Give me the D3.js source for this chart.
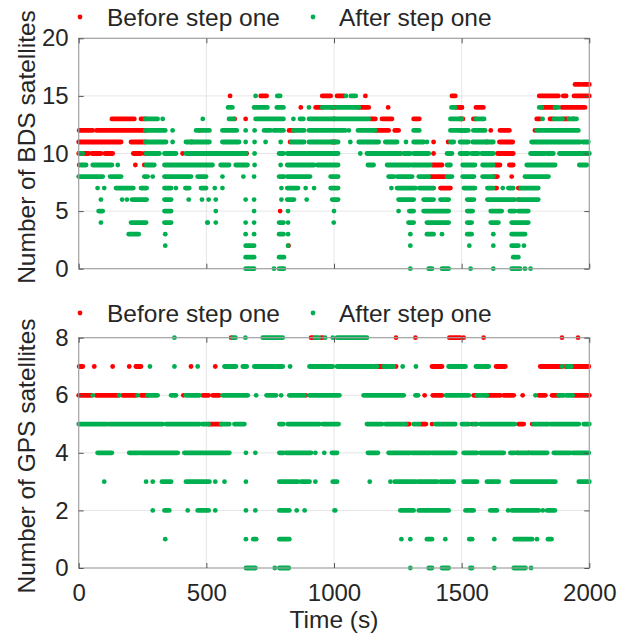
<!DOCTYPE html>
<html lang="en">
<head>
<meta charset="UTF-8">
<title>Satellite counts before and after step one</title>
<script src="https://d3js.org/d3.v7.min.js"></script>
<style>
  body { margin: 0; background: #fff; }
  text { font-family: "Liberation Sans", Arial, sans-serif; font-size: 24.5px; fill: #262626; }
  .tick text { font-size: 24px; }
  .tick line { stroke: #555; }
</style>
</head>
<body>
<svg width="628" height="642"></svg>
<script>
var timeTicks = [0, 500, 1000, 1500, 2000];
var bdsTicks = [0, 5, 10, 15, 20];
var gpsTicks = [0, 2, 4, 6, 8];
var legendNames = ["Before step one", "After step one"];
var colors = ["#ff0000", "#00b050"];

// runs of markers: [satellite count, first time (s), last time (s)]
var bdsBefore = [
  [13,130,218],[13,244,261],[12,2,55],[12,70,261],[12,475,475],
  [11,0,166],[11,205,261],[11,443,443],
  [10,0,0],[10,22,39],[10,52,87],[10,103,133],[10,214,244],[10,257,257],[10,407,407],
  [9,2,2],[9,222,222],[9,257,257],
  [15,593,593],[15,713,736],[15,954,987],[15,1012,1040],[15,1123,1123],[15,1462,1475],
  [14,870,870],[14,928,954],[14,992,1005],[14,1097,1136],[14,1212,1212],[14,1478,1501],
  [13,611,611],[13,654,654],[13,1000,1000],[13,1142,1162],[13,1188,1227],[13,1312,1334],
  [12,824,841],[12,1162,1214],[12,1238,1253],
  [11,828,828],[11,992,1005],[11,1390,1390],[11,1447,1447],
  [10,491,504],[10,658,658],[10,1260,1260],[10,1390,1390],
  [9,1384,1423],[8,1377,1436],[7,1390,1390],[7,1417,1456],
  [5,789,789],[2,822,822],
  [16,1944,1964],[16,1974,2000],
  [15,1804,1879],[15,1898,1909],[15,1940,2000],
  [14,1494,1500],[14,1556,1585],[14,1814,1866],[14,1892,1983],
  [13,1494,1505],[13,1546,1556],[13,1794,1807],[13,1846,1859],[13,1898,1918],[13,1938,1938],
  [12,1614,1614],[12,1650,1687],[12,1787,1787],
  [11,1598,1598],[11,1648,1700],
  [10,1640,1657],[10,1663,1702],
  [9,1631,1650],[9,1687,1702],
  [8,1627,1640],[8,1696,1696],
  [7,1631,1637],[7,1722,1729],[6,1722,1722]
];
var bdsAfter = [
  [13,261,309],[13,329,329],[13,486,486],
  [12,261,339],[12,368,368],[12,460,472],[12,483,512],
  [11,261,342],[11,368,368],[11,420,441],[11,446,512],
  [10,3,16],[10,264,316],[10,336,381],[10,420,512],
  [9,9,29],[9,55,130],[9,153,153],[9,264,296],[9,336,524],
  [8,0,94],[8,123,166],[8,257,270],[8,290,290],[8,336,440],[8,466,499],
  [7,74,74],[7,100,100],[7,146,214],[7,244,266],[7,336,362],[7,381,381],[7,418,433],[7,479,499],
  [6,87,87],[6,170,170],[6,189,189],[6,209,266],[6,336,362],[6,431,431],[6,483,483],[6,509,509],
  [5,78,94],[5,336,362],
  [4,87,87],[4,205,264],[4,336,362],[4,505,505],
  [3,196,235],[3,339,339],[2,339,339],
  [15,693,693],[15,778,789],[15,1047,1047],[15,1066,1085],
  [14,585,602],[14,687,739],[14,776,802],[14,902,902],[14,954,997],[14,1012,1097],[14,1460,1475],
  [13,589,608],[13,693,802],[13,841,841],[13,867,880],[13,902,1000],[13,1003,1136],[13,1456,1501],
  [12,563,619],[12,654,654],[12,689,689],[12,726,752],[12,765,802],[12,841,883],[12,902,1044],
  [12,1058,1058],[12,1094,1162],[12,1312,1334],[12,1456,1517],
  [11,563,628],[11,654,654],[11,689,689],[11,732,732],[11,791,791],[11,833,883],[11,902,1016],
  [11,1064,1064],[11,1097,1175],[11,1201,1247],[11,1282,1282],[11,1312,1351],[11,1364,1364],[11,1456,1469],
  [10,504,656],[10,689,689],[10,785,802],[10,817,1016],[10,1103,1103],[10,1129,1258],[10,1273,1299],
  [10,1312,1371],[10,1443,1462],
  [9,556,589],[9,615,661],[9,689,689],[9,791,791],[9,817,922],[9,935,1016],[9,1133,1155],
  [9,1208,1299],[9,1306,1377],[9,1443,1456],
  [8,563,563],[8,645,645],[8,687,687],[8,785,804],[8,817,906],[8,987,1016],[8,1214,1234],
  [8,1247,1306],[8,1332,1371],[8,1443,1462],
  [7,533,533],[7,563,563],[7,794,794],[7,817,859],[7,889,889],[7,922,922],[7,987,1016],
  [7,1225,1225],[7,1247,1319],[7,1334,1388],
  [6,537,537],[6,654,654],[6,687,687],[6,794,794],[6,817,843],[6,893,893],[6,993,1016],
  [6,1253,1312],[6,1351,1390],[6,1417,1449],
  [5,537,537],[5,687,687],[5,820,820],[5,1000,1000],[5,1253,1253],[5,1295,1312],[5,1351,1449],
  [4,504,504],[4,537,537],[4,654,654],[4,687,687],[4,785,802],[4,820,820],[4,999,999],
  [4,1292,1312],[4,1364,1449],
  [3,654,654],[3,687,687],[3,785,802],[3,820,820],[3,1299,1299],[3,1364,1390],[3,1423,1423],
  [2,654,687],[2,820,820],[2,1299,1299],
  [1,654,687],[1,785,804],
  [0,654,687],[0,765,765],[0,785,804],[0,1299,1299],[0,1371,1384],[0,1423,1449],
  [14,1804,1814],[14,1866,1879],
  [13,1556,1588],[13,1817,1817],[13,1862,1895],[13,1920,1936],[13,1940,1950],
  [12,1494,1526],[12,1546,1592],[12,1794,1957],
  [11,1494,1526],[11,1543,1596],[11,1600,1624],[11,1774,1964],[11,1974,1996],
  [10,1494,1526],[10,1539,1565],[10,1578,1624],[10,1770,1827],[10,1836,1859],[10,1883,2000],
  [9,1504,1552],[9,1582,1624],[9,1755,1866],[9,1961,1990],
  [8,1504,1548],[8,1582,1625],[8,1748,1840],
  [7,1509,1552],[7,1601,1624],[7,1661,1661],[7,1683,1702],[7,1731,1800],
  [6,1522,1548],[6,1601,1709],[6,1725,1800],
  [5,1522,1543],[5,1614,1657],[5,1689,1709],[5,1722,1761],
  [4,1522,1539],[4,1614,1644],[4,1696,1761],
  [3,1522,1539],[3,1624,1624],[3,1696,1748],
  [2,1530,1530],[2,1624,1624],[2,1696,1722],[2,1744,1744],
  [1,1702,1722],
  [0,1535,1535],[0,1624,1624],[0,1696,1729],[0,1748,1748],[0,1770,1770]
];
var gpsBefore = [
  [8,597,597],[8,910,918],[8,950,955],
  [8,1243,1243],[8,1319,1319],[8,1452,1495],[8,1508,1508],[8,1586,1586],[8,1893,1893],[8,1956,1956],
  [7,2,16],[7,61,61],[7,133,133],[7,198,198],[7,224,244],[7,440,440],[7,535,535],[7,585,585],[7,950,950],
  [7,1169,1195],[7,1243,1243],[7,1384,1423],[7,1595,1595],[7,1635,1671],[7,1808,1893],[7,1906,1998],
  [6,0,50],[6,68,155],[6,172,224],[6,244,270],[6,410,410],[6,486,509],[6,525,551],[6,890,890],
  [6,1355,1355],[6,1387,1423],[6,1547,1560],[6,1599,1652],[6,1665,1704],[6,1739,1739],[6,1802,1828],
  [6,1854,1880],[6,1939,2000],
  [5,113,113],[5,509,558],[5,1282,1295],[5,1338,1360],[5,1384,1384],[5,1541,1541],[5,1723,1743],[5,1776,1776],
  [4,1717,1717],[4,1763,1763]
];
var gpsAfter = [
  [8,375,375],[8,603,614],[8,653,653],[8,721,799],[8,925,940],[8,965,965],[8,995,995],[8,1012,1129],
  [7,279,279],[7,375,375],[7,466,466],[7,571,616],[7,643,658],[7,688,799],[7,828,828],[7,904,995],
  [7,1012,1169],[7,1195,1234],[7,1269,1269],[7,1321,1321],[7,1449,1515],[7,1556,1606],[7,1893,1893],[7,1912,1930],
  [6,55,55],[6,159,159],[6,231,231],[6,270,309],[6,362,381],[6,420,473],[6,564,662],[6,695,695],
  [6,736,773],[6,793,793],[6,825,884],[6,904,1021],[6,1116,1273],[6,1319,1329],[6,1439,1528],
  [6,1560,1599],[6,1789,1789],[6,1880,1900],[6,1910,1935],
  [5,0,107],[5,120,329],[5,342,473],[5,483,509],[5,558,590],[5,610,649],[5,786,802],[5,819,943],
  [5,956,1018],[5,1129,1188],[5,1201,1282],[5,1312,1334],[5,1397,1475],[5,1501,1530],[5,1547,1560],
  [5,1573,1708],[5,1782,1841],[5,1848,1959],[5,1978,2000],
  [4,74,130],[4,198,238],[4,244,388],[4,414,590],[4,655,655],[4,692,692],[4,786,802],[4,812,910],
  [4,927,927],[4,962,962],[4,992,1012],[4,1133,1172],[4,1214,1299],[4,1306,1377],[4,1384,1475],
  [4,1508,1560],[4,1573,1665],[4,1691,1708],[4,1719,1761],[4,1769,1835],[4,1861,1926],[4,1935,1998],
  [3,100,100],[3,264,264],[3,290,290],[3,326,362],[3,420,512],[3,535,535],[3,571,571],[3,655,655],
  [3,786,858],[3,871,904],[3,927,927],[3,995,1012],[3,1140,1140],[3,1221,1221],[3,1238,1319],
  [3,1329,1404],[3,1417,1469],[3,1508,1560],[3,1599,1645],[3,1697,1867],[3,1959,2000],
  [2,290,290],[2,336,355],[2,427,427],[2,466,509],[2,535,535],[2,655,655],[2,692,692],[2,786,825],
  [2,854,854],[2,885,885],[2,1002,1005],[2,1260,1312],[2,1332,1449],[2,1515,1547],[2,1612,1638],
  [2,1682,1682],[2,1697,1802],[2,1818,1818],[2,1835,1865],
  [1,339,339],[1,655,655],[1,684,695],[1,786,825],[1,1264,1264],[1,1299,1299],[1,1364,1384],
  [1,1436,1436],[1,1530,1541],[1,1628,1628],[1,1708,1776],[1,1795,1795],[1,1838,1852],
  [0,655,692],[0,768,768],[0,786,823],[0,1299,1299],[0,1371,1384],[0,1423,1449],[0,1534,1541],
  [0,1628,1628],[0,1704,1750],[0,1772,1772]
];

var svg = d3.select("svg");
var x = d3.scaleLinear().domain([0, 2000]).range([78.7, 589.3]);
var r = 2.4;

function drawPanel(p) {
    var y = d3.scaleLinear().domain([0, p.max]).range([p.bottom, p.top]);
    var g = svg.append("g");

    // grid
    g.append("g").selectAll("line").data(timeTicks.slice(1, -1)).join("line")
        .attr("x1", d => x(d)).attr("x2", d => x(d))
        .attr("y1", p.top).attr("y2", p.bottom)
        .attr("stroke", "#e6e6e6");
    g.append("g").selectAll("line").data(p.ticks.slice(1, -1)).join("line")
        .attr("x1", x(0)).attr("x2", x(2000))
        .attr("y1", d => y(d)).attr("y2", d => y(d))
        .attr("stroke", "#e6e6e6");

    // markers, drawn as rounded bars over each run of dots
    [p.before, p.after].forEach(function (runs, i) {
        g.append("g").selectAll("rect").data(runs).join("rect")
            .attr("x", d => x(d[1]) - r)
            .attr("width", d => x(d[2]) - x(d[1]) + 2 * r)
            .attr("y", d => y(d[0]) - r)
            .attr("height", 2 * r)
            .attr("rx", r)
            .attr("fill", colors[i]);
    });

    // box
    g.append("rect")
        .attr("x", x(0)).attr("y", p.top)
        .attr("width", x(2000) - x(0)).attr("height", p.bottom - p.top)
        .attr("fill", "none").attr("stroke", "#a0a0a0").attr("stroke-width", 1.2);

    // axes, ticks pointing in
    g.append("g").attr("transform", "translate(" + x(0) + ",0)")
        .call(d3.axisLeft(y).tickValues(p.ticks).tickSize(-5).tickPadding(10))
        .call(a => a.select(".domain").remove());
    g.append("g").attr("transform", "translate(" + x(2000) + ",0)")
        .call(d3.axisRight(y).tickValues(p.ticks).tickSize(-5).tickFormat(""))
        .call(a => a.select(".domain").remove());
    g.append("g").attr("transform", "translate(0," + p.top + ")")
        .call(d3.axisTop(x).tickValues(timeTicks).tickSize(-5).tickFormat(""))
        .call(a => a.select(".domain").remove());
    var xb = d3.axisBottom(x).tickValues(timeTicks).tickSize(-5).tickPadding(16)
        .tickFormat(p.showX ? d3.format("d") : "");
    g.append("g").attr("transform", "translate(0," + p.bottom + ")")
        .call(xb)
        .call(a => a.select(".domain").remove());

    // y label
    g.append("text")
        .attr("transform", "translate(35," + p.labelY + ") rotate(-90)")
        .attr("text-anchor", "middle")
        .text(p.label);

    // legend
    var lg = g.append("g");
    [[80, 107], [313, 339]].forEach(function (pos, i) {
        lg.append("circle").attr("cx", pos[0]).attr("cy", p.legendY).attr("r", r).attr("fill", colors[i]);
        lg.append("text").attr("x", pos[1]).attr("y", p.legendY + 9).text(legendNames[i]);
    });
}

drawPanel({top: 38.3, bottom: 268.7, max: 20, ticks: bdsTicks, before: bdsBefore, after: bdsAfter,
    label: "Number of BDS satellites", labelY: 147, legendY: 17, showX: false});
drawPanel({top: 337.7, bottom: 568, max: 8, ticks: gpsTicks, before: gpsBefore, after: gpsAfter,
    label: "Number of GPS satellites", labelY: 456, legendY: 313, showX: true});

svg.append("text")
    .attr("x", x(1000)).attr("y", 628)
    .attr("text-anchor", "middle")
    .text("Time (s)");
</script>
</body>
</html>
